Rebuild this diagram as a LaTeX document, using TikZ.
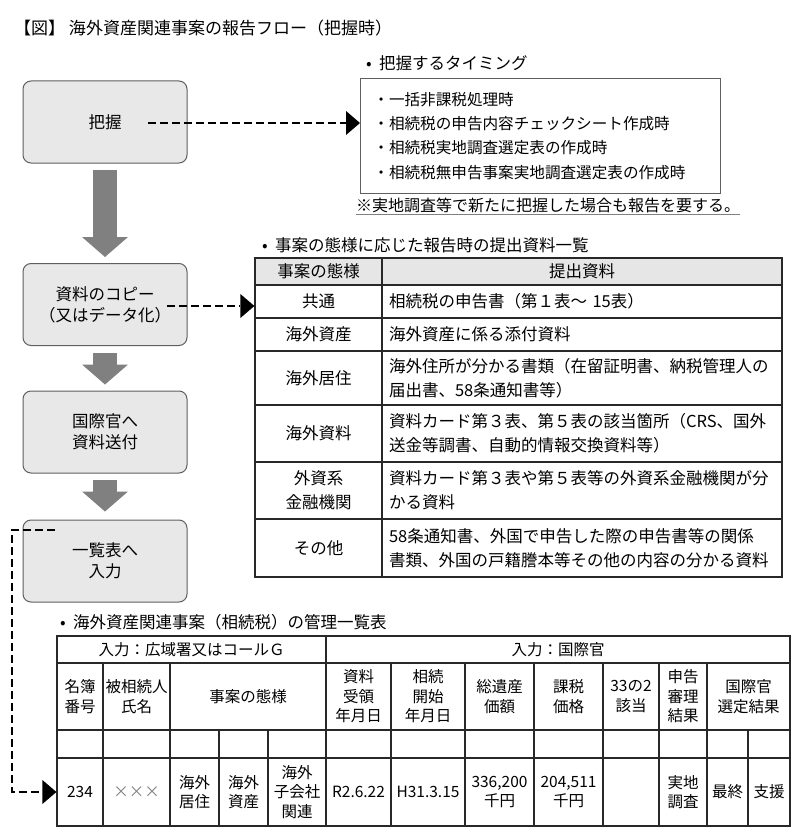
\documentclass[tikz,border=0pt]{standalone}
\usepackage{fontspec}
\setmainfont{Noto Sans CJK JP}
\usetikzlibrary{arrows.meta}
\definecolor{boxfill}{RGB}{232,232,232}
\definecolor{boxline}{RGB}{95,95,95}
\definecolor{flowgray}{RGB}{128,128,128}
\definecolor{headfill}{RGB}{230,230,230}
\definecolor{rulegray}{RGB}{40,40,40}
\tikzset{
    flowbox/.style={draw=boxline, line width=1pt, fill=boxfill, rounded corners=8pt,
        minimum width=164pt, minimum height=82pt, align=center,
        font=\fontsize{16.5}{21}\selectfont},
    flowarrow/.style={draw=flowgray, line width=24pt,
        -{Triangle[length=20pt, width=46pt, line width=0pt]}},
    dasharrow/.style={line width=2pt, dash pattern=on 8pt off 4pt,
        -{Triangle[length=14pt, width=24pt, line width=0pt]}},
    caption/.style={anchor=west, inner sep=0pt, font=\fontsize{16.5}{20}\selectfont},
    cell/.style={draw=rulegray, line width=1.2pt, inner sep=0pt, align=center},
    wide/.style={font=\fontsize{16.5}{24}\selectfont},
    narrow/.style={font=\fontsize{15.5}{19.5}\selectfont},
}
\begin{document}
\begin{tikzpicture}[x=1pt, y=-1pt]
    \useasboundingbox (0,0) rectangle (800,840);
    \node[caption, font=\fontsize{17}{20}\selectfont] (title) at (14,28) {【図】 海外資産関連事案の報告フロー（把握時）};

    \node[flowbox] (grasp) at (105,122) {把握};
    \node[flowbox] (copy) at (105,304.5) {資料のコピー\\（又はデータ化）};
    \node[flowbox] (send) at (105,432) {国際官へ\\資料送付};
    \node[flowbox] (entry) at (105,561) {一覧表へ\\入力};
    \draw[flowarrow] ([yshift=-6pt]grasp.south) -- ([yshift=6pt]copy.north);
    \draw[flowarrow] ([yshift=-7pt]copy.south) -- ([yshift=6pt]send.north);
    \draw[flowarrow] ([yshift=-6pt]send.south) -- ([yshift=8pt]entry.north);

    \node[caption] (timing-cap) at (366,63) {•\ \ 把握するタイミング};
    \node[draw=boxline, line width=0.8pt, anchor=north west, minimum width=360pt, minimum height=115pt,
        text width=334pt, inner xsep=13pt, align=left, font=\fontsize{15.6}{24.3}\selectfont]
        (timing) at (360,78) {・一括非課税処理時\\・相続税の申告内容チェックシート作成時\\・相続税実地調査選定表の作成時\\・相続税無申告事案実地調査選定表の作成時};
    \node[caption, font=\fontsize{16}{20}\selectfont] (note) at (356,205) {※実地調査等で新たに把握した場合も報告を要する。};
    \draw[gray, line width=1.5pt] ([yshift=-2pt]note.south west) -- ([yshift=-2pt]note.south east);
    \coordinate (grasp-out) at (148,123);
    \draw[dasharrow] (grasp-out) -- (grasp-out -| timing.west);

    \node[caption] (docs-cap) at (262,245) {•\ \ 事案の態様に応じた報告時の提出資料一覧};
    \node[cell, wide, fill=headfill, minimum width=127pt, minimum height=27pt] (kind0) at (318.5,271.5) {事案の態様};
    \node[cell, wide, fill=headfill, minimum width=400pt, minimum height=27pt] (docs0) at (582,271.5) {提出資料};
    \foreach \ya/\yb/\kind/\docs [count=\i] in {
        285/318/共通/{相続税の申告書（第１表～ 15表）},
        318/351/海外資産/海外資産に係る添付資料,
        351/405/海外居住/{海外住所が分かる書類（在留証明書、納税管理人の\\届出書、58条通知書等）},
        405/462/海外資料/{資料カード第３表、第５表の該当箇所（CRS、国外\\送金等調書、自動的情報交換資料等）},
        462/519/{外資系\\金融機関}/{資料カード第３表や第５表等の外資系金融機関が分\\かる資料},
        519/577/その他/{58条通知書、外国で申告した際の申告書等の関係\\書類、外国の戸籍謄本等その他の内容の分かる資料}} {
        \node[cell, wide, minimum width=127pt, minimum height={(\yb-\ya)*1pt}] (kind\i) at (318.5,{(\ya+\yb)/2}) {\kind};
        \node[cell, wide, minimum width=400pt, minimum height={(\yb-\ya)*1pt}, text width=386pt, align=left] (docs\i) at (582,{(\ya+\yb)/2}) {\docs};
    }
    \coordinate (copy-out) at (167,306);
    \draw[dasharrow] (copy-out) -- (copy-out -| kind1.west);

    \node[caption] (list-cap) at (60,622) {•\ \ 海外資産関連事案（相続税）の管理一覧表};
    \node[cell, narrow, minimum width=269pt, minimum height=27pt] (input0) at (191.5,649.5) {入力：広域署又はコールＧ};
    \node[cell, narrow, minimum width=464pt, minimum height=27pt] (input1) at (558,649.5) {入力：国際官};
    \foreach \xa/\xb/\head [count=\i] in {
        57/103/{名簿\\番号}, 103/170/{被相続人\\氏名}, 170/326/事案の態様,
        326/391/{資料\\受領\\年月日}, 391/465/{相続\\開始\\年月日}, 465/534/{総遺産\\価額},
        534/603/{課税\\価格}, 603/659/{33の2\\該当}, 659/707/{申告\\審理\\結果},
        707/790/{国際官\\選定結果}} {
        \node[cell, narrow, minimum width={(\xb-\xa)*1pt}, minimum height=67pt] (head\i) at ({(\xa+\xb)/2},696.5) {\head};
    }
    \foreach \xa/\xb/\val [count=\i] in {
        57/103/234, 103/170/{\color{gray}×××}, 170/219/{海外\\居住}, 219/268/{海外\\資産},
        268/326/{海外\\子会社\\関連}, 326/391/R2.6.22, 391/465/H31.3.15,
        465/534/{336,200\\千円}, 534/603/{204,511\\千円}, 603/659/{},
        659/707/{実地\\調査}, 707/748/最終, 748/790/支援} {
        \node[cell, minimum width={(\xb-\xa)*1pt}, minimum height=28pt] (blank\i) at ({(\xa+\xb)/2},744) {};
        \node[cell, narrow, minimum width={(\xb-\xa)*1pt}, minimum height=68pt] (val\i) at ({(\xa+\xb)/2},792) {\val};
    }
    \coordinate (entry-out) at (55,530);
    \coordinate (entry-bend) at (12,530);
    \draw[dasharrow] (entry-out) -- (entry-bend) |- (val1.west);
\end{tikzpicture}
\end{document}
